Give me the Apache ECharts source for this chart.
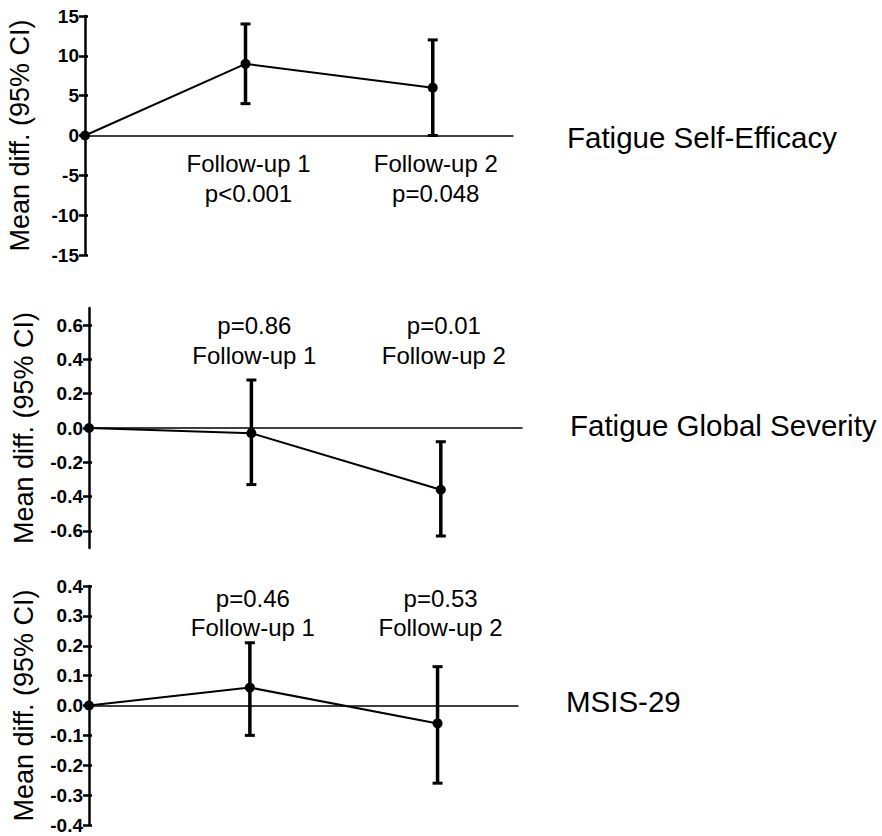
<!DOCTYPE html>
<html>
<head>
<meta charset="utf-8">
<script src="https://cdn.jsdelivr.net/npm/echarts@6/dist/echarts.min.js"></script>
<style>
html,body{margin:0;padding:0;background:#fff;}
#main{width:882px;height:836px;}
</style>
</head>
<body>
<div id="main"></div>
<script>
// ---- data ----
const xWeeks = [0, 6, 13];
const followUps = ['Follow-up 1', 'Follow-up 2'];
const yAxisName = 'Mean diff. (95% CI)';
const panelTitles = ['Fatigue Self-Efficacy', 'Fatigue Global Severity', 'MSIS-29'];

const fseMean = [0, 9, 6];
const fseLow = [0, 4, 0];
const fseHigh = [0, 14, 12];
const fseP = ['p<0.001', 'p=0.048'];
const fseTicks = [-15, -10, -5, 0, 5, 10, 15];

const fgsMean = [0, -0.03, -0.36];
const fgsLow = [0, -0.33, -0.63];
const fgsHigh = [0, 0.28, -0.08];
const fgsP = ['p=0.86', 'p=0.01'];
const fgsTicks = [-0.6, -0.4, -0.2, 0.0, 0.2, 0.4, 0.6];

const msisMean = [0, 0.06, -0.06];
const msisLow = [0, -0.10, -0.26];
const msisHigh = [0, 0.21, 0.13];
const msisP = ['p=0.46', 'p=0.53'];
const msisTicks = [-0.4, -0.3, -0.2, -0.1, 0.0, 0.1, 0.2, 0.3, 0.4];

// ---- layout ----
const FONT = 'Liberation Sans';
const panels = [
  {mean: fseMean, low: fseLow, high: fseHigh, p: fseP, ticks: fseTicks, min: -15, max: 15, dec: 0,
   grid: {left: 85, top: 16, width: 428, height: 239}, pFirst: false, dy: [28, 58], titleX: 567, titleY: 137},
  {mean: fgsMean, low: fgsLow, high: fgsHigh, p: fgsP, ticks: fgsTicks, min: -0.7, max: 0.7, dec: 1,
   grid: {left: 89, top: 308, width: 433, height: 240}, pFirst: true, dy: [-103, -73], titleX: 570, titleY: 425},
  {mean: msisMean, low: msisLow, high: msisHigh, p: msisP, ticks: msisTicks, min: -0.4, max: 0.4, dec: 1,
   grid: {left: 89, top: 586, width: 429, height: 239}, pFirst: true, dy: [-107, -78], titleX: 566, titleY: 701}
];

const grid = [], xAxis = [], yAxis = [], series = [], graphic = [];

panels.forEach((pn, i) => {
  grid.push(Object.assign({containLabel: false}, pn.grid));
  xAxis.push({
    type: 'value', gridIndex: i, min: 0, max: 16,
    axisLine: {show: true, onZero: true, lineStyle: {color: '#000', width: 1.5}},
    axisTick: {show: false}, axisLabel: {show: false}, splitLine: {show: false}
  });
  yAxis.push({
    type: 'value', gridIndex: i, min: pn.min, max: pn.max, position: 'left',
    axisLine: {show: true, onZero: false, lineStyle: {color: '#000', width: 2.5}},
    axisTick: {show: true, length: 6, customValues: pn.ticks, lineStyle: {color: '#000', width: 2.5}},
    axisLabel: {customValues: pn.ticks, formatter: v => Number(v).toFixed(pn.dec),
      fontSize: 19, fontWeight: 'bold', color: '#000', margin: 6},
    splitLine: {show: false},
    name: yAxisName, nameLocation: 'middle', nameGap: 52,
    nameTextStyle: {fontSize: 27, fontFamily: FONT, color: '#000'}
  });
  yAxis.push({
    type: 'value', gridIndex: i, min: pn.min, max: pn.max, position: 'left',
    axisLine: {show: false},
    axisTick: {show: true, inside: true, length: 3, customValues: pn.ticks, lineStyle: {color: '#000', width: 2.5}},
    axisLabel: {show: false}, splitLine: {show: false}
  });

  // error bars
  series.push({
    type: 'custom', xAxisIndex: i, yAxisIndex: i * 2, z: 3, animation: false,
    data: xWeeks.map((x, k) => [x, pn.low[k], pn.high[k]]),
    encode: {x: 0, y: [1, 2]},
    renderItem: (params, api) => {
      const x = api.value(0), lo = api.value(1), hi = api.value(2);
      if (lo === hi) return null;
      const t = api.coord([x, hi]), b = api.coord([x, lo]);
      const hw = 5;
      return {type: 'group', children: [
        {type: 'line', shape: {x1: t[0], y1: t[1], x2: b[0], y2: b[1]}, style: {stroke: '#000', lineWidth: 3.5}},
        {type: 'line', shape: {x1: t[0] - hw, y1: t[1], x2: t[0] + hw, y2: t[1]}, style: {stroke: '#000', lineWidth: 3}},
        {type: 'line', shape: {x1: b[0] - hw, y1: b[1], x2: b[0] + hw, y2: b[1]}, style: {stroke: '#000', lineWidth: 3}}
      ]};
    }
  });
  // mean line
  series.push({
    type: 'line', xAxisIndex: i, yAxisIndex: i * 2, z: 4, animation: false,
    data: xWeeks.map((x, k) => [x, pn.mean[k]]),
    symbol: 'circle', symbolSize: 10,
    lineStyle: {color: '#000', width: 2}, itemStyle: {color: '#000'}
  });
  // annotations
  series.push({
    type: 'custom', xAxisIndex: i, yAxisIndex: i * 2, z: 5, animation: false,
    data: xWeeks.slice(1).map(x => [x, 0]),
    encode: {x: 0, y: 1},
    renderItem: (params, api) => {
      const k = params.dataIndex;
      const c = api.coord([api.value(0), 0]);
      const lines = pn.pFirst ? [pn.p[k], followUps[k]] : [followUps[k], pn.p[k]];
      return {type: 'group', children: lines.map((txt, j) => ({
        type: 'text', x: c[0] + 3, y: c[1] + pn.dy[j],
        style: {text: txt, fontSize: 24, fontFamily: FONT, fill: '#000', align: 'center', verticalAlign: 'middle'}
      }))};
    }
  });

  graphic.push({
    type: 'text', x: pn.titleX, y: pn.titleY,
    style: {text: panelTitles[i], fontSize: 29.5, fontFamily: FONT, fill: '#000', align: 'left', verticalAlign: 'middle'}
  });
});

const chart = echarts.init(document.getElementById('main'), null, {renderer: 'svg'});
chart.setOption({
  backgroundColor: '#fff',
  animation: false,
  grid, xAxis, yAxis, series, graphic
});
</script>
</body>
</html>
